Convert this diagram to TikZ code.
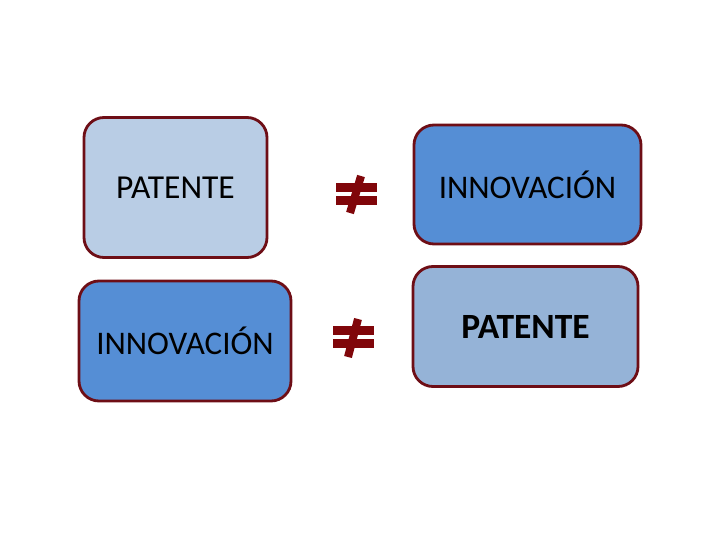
\documentclass[tikz,border=0pt]{standalone}
\usepackage{fontspec}
\setmainfont{Carlito}
\definecolor{edgered}{RGB}{110,14,22}
\definecolor{signred}{RGB}{128,6,10}
\definecolor{paleblue}{HTML}{B9CDE5}
\definecolor{midblue}{HTML}{558ED5}
\definecolor{softblue}{HTML}{95B3D7}
\begin{document}
\begin{tikzpicture}[x=1pt,y=-1pt,
  card/.style={draw=edgered,line width=2.8pt,rounded corners=20pt,inner sep=0pt,text=black},
  neqbar/.style={fill=signred,draw=none},
  neqslash/.style={draw=signred,line width=8pt}]
\useasboundingbox (0,0) rectangle (720,540);
% boxes
\node[card,fill=paleblue,minimum width=183pt,minimum height=140pt,
  font=\fontsize{33.5}{38}\selectfont] (p1) at (175.5,187.5) {PATENTE};
\node[card,fill=midblue,minimum width=227pt,minimum height=119pt,
  font=\fontsize{33}{38}\selectfont] (i1) at (527.5,184.5) {INNOVACIÓN};
\node[card,fill=midblue,minimum width=212pt,minimum height=120pt,
  font=\fontsize{33}{38}\selectfont] (i2) at (185,341) {INNOVACIÓN};
\node[card,fill=softblue,minimum width=225pt,minimum height=120pt,
  font=\bfseries\fontsize{35.5}{40}\selectfont] (p2) at (525.5,326.5) {PATENTE};
% not-equal signs
\coordinate (n1a) at (361,176);
\coordinate (n1b) at (350,213);
\fill[neqbar] (336,183) rectangle (377,192);
\fill[neqbar] (336,196) rectangle (377,205);
\draw[neqslash] (n1a) -- (n1b);
\coordinate (n2a) at (358,319);
\coordinate (n2b) at (348,357);
\fill[neqbar] (333,326) rectangle (374,335);
\fill[neqbar] (333,339) rectangle (374,348);
\draw[neqslash] (n2a) -- (n2b);
\end{tikzpicture}
\end{document}
